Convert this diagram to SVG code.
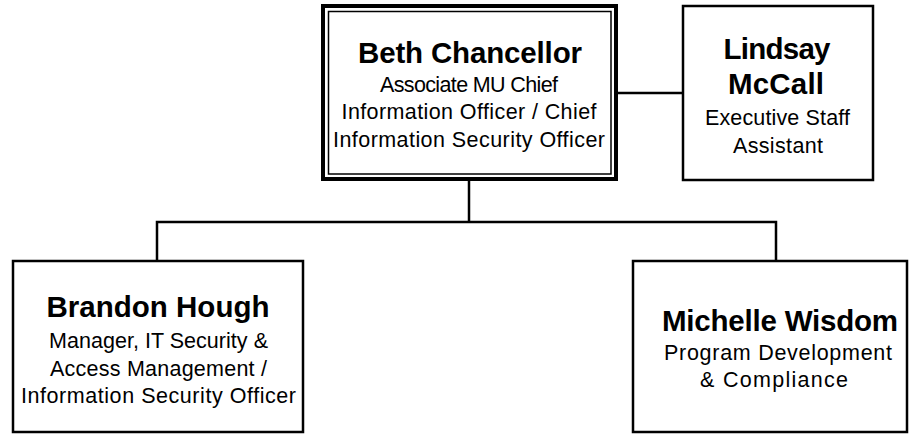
<svg xmlns="http://www.w3.org/2000/svg" width="909" height="435" viewBox="0 0 909 435">
  <style>
    .box { fill: #ffffff; stroke: #000000; stroke-width: 2.5; }
    .outer { fill: #ffffff; stroke: #000000; stroke-width: 4; }
    .inner { fill: none; stroke: #000000; stroke-width: 1.5; }
    .conn { fill: none; stroke: #000000; stroke-width: 2.5; }
    .name { font-family: "Liberation Sans", Arial, sans-serif; font-weight: bold; font-size: 29.5px; fill: #000000; text-anchor: middle; }
    .title { font-family: "Liberation Sans", Arial, sans-serif; font-size: 21.5px; fill: #000000; text-anchor: middle; }
  </style>
  <rect width="909" height="435" fill="#ffffff"/>
  <g id="connectors">
    <line class="conn" x1="618" y1="93" x2="683" y2="93"/>
    <line class="conn" x1="469" y1="181" x2="469" y2="222"/>
    <polyline class="conn" points="157,261 157,222 776,222 776,261"/>
  </g>
  <g id="beth">
    <rect class="outer" x="323" y="6" width="293" height="173"/>
    <rect class="inner" x="328.5" y="11.5" width="282.5" height="162.5"/>
    <text class="name" x="470" y="63" textLength="224">Beth Chancellor</text>
    <text class="title" x="469" y="92" textLength="178">Associate MU Chief</text>
    <text class="title" x="469" y="119" textLength="255">Information Officer / Chief</text>
    <text class="title" x="469" y="147" textLength="272">Information Security Officer</text>
  </g>
  <g id="lindsay">
    <rect class="box" x="683" y="6" width="190" height="174"/>
    <text class="name" x="777" y="58.5" textLength="107">Lindsay</text>
    <text class="name" x="776" y="94" textLength="96">McCall</text>
    <text class="title" x="777.5" y="125" textLength="145">Executive Staff</text>
    <text class="title" x="778" y="152.5" textLength="90">Assistant</text>
  </g>
  <g id="brandon">
    <rect class="box" x="13" y="261" width="290" height="171"/>
    <text class="name" x="158" y="317" textLength="223">Brandon Hough</text>
    <text class="title" x="158.5" y="348" textLength="219">Manager, IT Security &amp;</text>
    <text class="title" x="158.5" y="376" textLength="217">Access Management /</text>
    <text class="title" x="158.5" y="403" textLength="275">Information Security Officer</text>
  </g>
  <g id="michelle">
    <rect class="box" x="633" y="261" width="274" height="171"/>
    <text class="name" x="780" y="331" textLength="236">Michelle Wisdom</text>
    <text class="title" x="778" y="360" textLength="228">Program Development</text>
    <text class="title" x="774" y="386.5" textLength="148">&amp; Compliance</text>
  </g>
</svg>
